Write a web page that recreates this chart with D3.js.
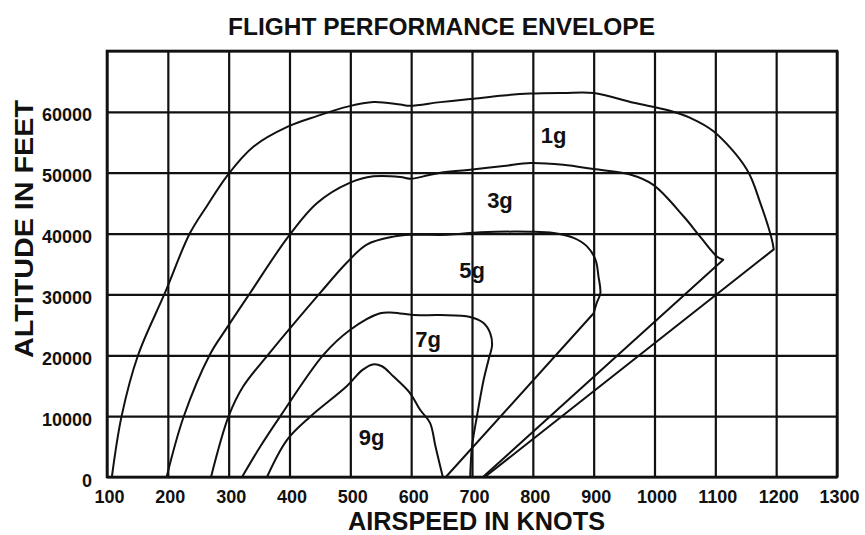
<!DOCTYPE html>
<html>
<head>
<meta charset="utf-8">
<script src="https://cdn.jsdelivr.net/npm/d3@7"></script>
<style>
  html, body { margin: 0; padding: 0; background: #fff; }
  svg { display: block; }
  text {
    font-family: "Liberation Sans", Arial, sans-serif;
    font-weight: bold;
    fill: #111;
  }
</style>
</head>
<body>
<svg id="chart" width="865" height="535"></svg>
<script>
// Axis ticks
const xTicks = [100, 200, 300, 400, 500, 600, 700, 800, 900, 1000, 1100, 1200, 1300];
const yTicks = [0, 10000, 20000, 30000, 40000, 50000, 60000];

// Envelope boundaries for each load factor: [airspeed (knots), altitude (feet)]
const gLoads = ["1g", "3g", "5g", "7g", "9g"];

const envelope1g = [[108,0],[124,10000],[151,20000],[195,30200],[236,40000],[264,44500],
  [299,49700],[341,54300],[398,57600],[445,59300],[497,60900],[538,61600],[582,61200],[598,61000],
  [648,61600],[697,62100],[752,62700],[796,63000],[850,63100],[900,63100],[966,61500],[1021,60300],
  [1059,59000],[1097,56800],[1152,50500],[1174,45000],[1193,39000],[1196,37400],[721,0]];

const envelope3g = [[198,0],[226,9900],[269,20100],[297,24500],[335,30200],[398,39500],[445,45000],
  [498,48300],[538,49400],[582,49300],[600,49000],[620,49400],[648,50000],[697,50500],[752,51100],
  [796,51600],[850,51300],[900,50600],[960,49700],[998,48000],[1048,42800],[1075,39500],[1103,36200],
  [1113,35700],[718,0]];

const envelope5g = [[271,0],[300,10000],[324,14900],[365,20100],[450,30200],[494,35200],
  [527,38200],[571,39500],[598,39800],[659,39800],[714,40200],[796,40300],[834,40100],[867,39300],
  [889,37900],[903,35700],[908,32900],[911,30200],[905,28600],[900,26900],[657,0]];

const envelope7g = [[322,0],[352,5000],[385,10000],[456,20100],[500,24200],[549,26900],[571,27000],
  [604,26600],[648,26600],[697,26300],[719,25300],[730,23600],[733,21700],[727,19200],[719,15900],
  [708,9900],[700,5000],[697,0]];

const envelope9g = [[363,0],[396,6100],[434,9900],[494,14900],[520,17600],[537,18500],[552,18200],
  [571,16500],[598,13800],[615,11000],[631,8900],[640,5000],[652,0]];

// Envelopes whose last leg is a straight descent back to sea level
const straightReturn = [true, true, true, false, false];

// Where each load-factor name is written, in knots / feet
const labelKnots = [834, 746, 700, 628, 535];
const labelFeet  = [54900, 44200, 32700, 21400, 5300];

const envelopes = [envelope1g, envelope3g, envelope5g, envelope7g, envelope9g];

(function draw() {
  const svg = d3.select("#chart");
  const plotLeft = 107, plotRight = 837, plotTop = 51, plotBottom = 477;

  const x = d3.scaleLinear().domain([100, 1300]).range([plotLeft, plotRight]);
  const y = d3.scaleLinear().domain([0, 70000]).range([plotBottom, plotTop]);

  // Grid + tick labels via axes
  const xAxis = svg.append("g")
    .attr("transform", `translate(0,${plotBottom})`)
    .call(d3.axisBottom(x).tickValues(xTicks).tickFormat(d3.format("d"))
      .tickSize(-(plotBottom - plotTop)).tickPadding(13));
  xAxis.select(".domain").remove();
  xAxis.selectAll("line").attr("stroke", "#111").attr("stroke-width", 2.2);
  xAxis.selectAll("text").attr("font-size", 18).attr("dx", 2);

  const yAxis = svg.append("g")
    .attr("transform", `translate(${plotLeft},0)`)
    .call(d3.axisLeft(y).tickValues(yTicks.concat([70000]))
      .tickFormat(d => d === 70000 ? "" : d3.format("d")(d))
      .tickSize(-(plotRight - plotLeft)).tickPadding(15));
  yAxis.select(".domain").remove();
  yAxis.selectAll("line").attr("stroke", "#111").attr("stroke-width", 2.2);
  yAxis.selectAll("text").attr("font-size", 18).attr("dy", "0.5em");

  // let the stylesheet font apply to axis text
  svg.selectAll("g").attr("font-family", null).attr("font-size", null);
  svg.selectAll(".tick text").attr("fill", "#111");

  // Plot frame
  svg.append("rect")
    .attr("x", plotLeft).attr("y", plotTop)
    .attr("width", plotRight - plotLeft).attr("height", plotBottom - plotTop)
    .attr("fill", "none").attr("stroke", "#111").attr("stroke-width", 2.6);

  // Envelope curves: smooth boundary, straight return leg where present
  const smooth = d3.line().x(d => x(d[0])).y(d => y(d[1])).curve(d3.curveCatmullRom.alpha(0.5));
  const straight = d3.line().x(d => x(d[0])).y(d => y(d[1]));
  const pathFor = (pts, i) => {
    if (!straightReturn[i]) return smooth(pts);
    const n = pts.length;
    return smooth(pts.slice(0, n - 1)) + straight(pts.slice(n - 2)).replace(/^M[^L]*/, "");
  };
  svg.append("g").selectAll("path")
    .data(envelopes)
    .join("path")
    .attr("d", pathFor)
    .attr("fill", "none")
    .attr("stroke", "#111")
    .attr("stroke-width", 2)
    .attr("stroke-linejoin", "round");

  // Load-factor names
  svg.append("g").selectAll("text")
    .data(gLoads)
    .join("text")
    .attr("x", (d, i) => x(labelKnots[i]))
    .attr("y", (d, i) => y(labelFeet[i]))
    .attr("text-anchor", "middle")
    .attr("font-size", 22)
    .text(d => d);

  // Titles
  svg.append("text")
    .attr("x", 441.5).attr("y", 35)
    .attr("text-anchor", "middle")
    .attr("font-size", 23)
    .attr("textLength", 427).attr("lengthAdjust", "spacingAndGlyphs")
    .text("FLIGHT PERFORMANCE ENVELOPE");

  svg.append("text")
    .attr("x", 476.5).attr("y", 530)
    .attr("text-anchor", "middle")
    .attr("font-size", 25)
    .attr("textLength", 257).attr("lengthAdjust", "spacingAndGlyphs")
    .text("AIRSPEED IN KNOTS");

  svg.append("text")
    .attr("transform", "translate(33,229) rotate(-90)")
    .attr("text-anchor", "middle")
    .attr("font-size", 25)
    .attr("textLength", 258).attr("lengthAdjust", "spacingAndGlyphs")
    .text("ALTITUDE IN FEET");
})();
</script>
</body>
</html>
